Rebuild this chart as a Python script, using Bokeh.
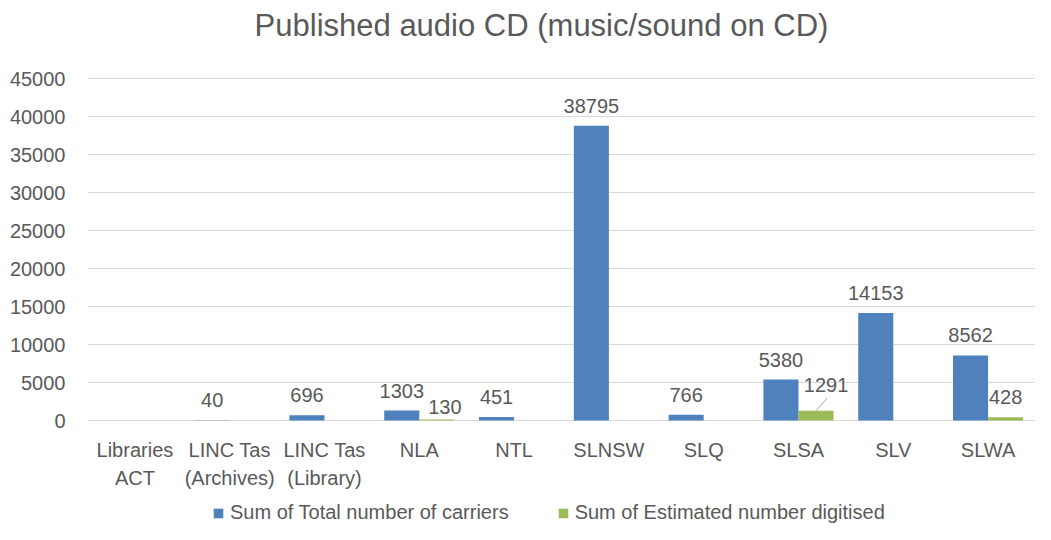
from bokeh.plotting import figure
from bokeh.models import (ColumnDataSource, Legend, LegendItem, FactorRange, Range1d,
                          FixedTicker, Label)
from bokeh.transform import dodge
from bokeh.core.properties import value
from bokeh.embed import file_html
from bokeh.resources import INLINE

NaN = float("nan")

# ---- data ----
categories = ["Libraries\nACT", "LINC Tas\n(Archives)", "LINC Tas\n(Library)", "NLA", "NTL",
              "SLNSW", "SLQ", "SLSA", "SLV", "SLWA"]
total_carriers = [NaN, 40, 696, 1303, 451, 38795, 766, 5380, 14153, 8562]
est_digitised = [NaN, NaN, NaN, 130, NaN, NaN, NaN, 1291, NaN, 428]
series_names = ["Sum of Total number of carriers", "Sum of Estimated number digitised"]
title_text = "Published audio CD (music/sound on CD)"
y_ticks = [0, 5000, 10000, 15000, 20000, 25000, 30000, 35000, 40000, 45000]

FONT = "Liberation Sans"
TXT = "#595959"
BLUE = "#4F81BD"
GREEN = "#9BBB59"
GRID = "#D9D9D9"

# layout: the frame covers the whole height; the value axis occupies 342px of it
W, H = 1035, 524
LEFT_PX = 87
TOP_PX, BOTTOM_PX = 78, 104
AXIS_PX = H - TOP_PX - BOTTOM_PX
ymax = y_ticks[-1]
upp = ymax / AXIS_PX  # units per pixel
y_range = Range1d(-BOTTOM_PX * upp, ymax + TOP_PX * upp)

BW = 0.37        # bar width (category units)
DX = BW / 2      # dodge of each series

p = figure(x_range=FactorRange(*categories, range_padding=0), y_range=y_range,
           width=W, height=H, output_backend="svg", toolbar_location=None,
           min_border_left=LEFT_PX, min_border_right=0, min_border_top=0, min_border_bottom=0)
p.outline_line_color = None
p.background_fill_color = "white"
p.border_fill_color = "white"

bar_src = ColumnDataSource(dict(cat=categories, total=total_carriers, est=est_digitised))
r1 = p.vbar(x=dodge("cat", -DX, range=p.x_range), top="total", width=BW, source=bar_src,
            fill_color=BLUE, line_color=None)
r2 = p.vbar(x=dodge("cat", DX, range=p.x_range), top="est", width=BW, source=bar_src,
            fill_color=GREEN, line_color=None)

# data labels
def label_src(vals, extra=None):
    cats, ys, txt, xo, yo = [], [], [], [], []
    for c, v in zip(categories, vals):
        if v == v:
            cats.append(c); ys.append(v); txt.append(str(int(v)))
            ex = (extra or {}).get(c, (0, 0))
            xo.append(ex[0]); yo.append(-13 + ex[1])
    return ColumnDataSource(dict(cat=cats, y=ys, text=txt, xo=xo, yo=yo))

blue_lbl = label_src(total_carriers)
green_lbl = label_src(est_digitised, {"NLA": (8, 7), "SLSA": (10, -6)})

for src, dx in ((blue_lbl, -DX), (green_lbl, DX)):
    p.text(x=dodge("cat", dx, range=p.x_range), y="y", text="text", source=src,
           x_offset="xo", y_offset="yo", text_align="center", text_baseline="bottom",
           text_font=value(FONT), text_font_size="20px", text_color=TXT)

# leader line for the moved SLSA label
slsa_v = est_digitised[categories.index("SLSA")]
lead = ColumnDataSource(dict(x0=["SLSA"], x1=["SLSA"], y0=[slsa_v], y1=[slsa_v + 13 * upp]))
p.segment(x0=dodge("x0", DX, range=p.x_range), x1=dodge("x1", DX + 0.12, range=p.x_range),
          y0="y0", y1="y1", source=lead, line_color="#A6A6A6", line_width=1)

# category labels (drawn below the zero line)
cat_src = ColumnDataSource(dict(cat=categories, y=[0] * len(categories)))
p.text(x="cat", y="y", text="cat", source=cat_src, y_offset=18, text_align="center",
       text_baseline="top", text_line_height=1.3,
       text_font=value(FONT), text_font_size="20px", text_color=TXT)

# axes
p.xaxis.visible = False
p.yaxis.ticker = FixedTicker(ticks=y_ticks)
p.yaxis.axis_line_color = None
p.yaxis.major_tick_line_color = None
p.yaxis.minor_tick_line_color = None
p.yaxis.major_label_text_font = FONT
p.yaxis.major_label_text_font_size = "20px"
p.yaxis.major_label_text_color = TXT
p.yaxis.major_label_standoff = 16

p.xgrid.grid_line_color = None
p.ygrid.grid_line_color = GRID
p.ygrid.grid_line_width = 1

# title
title = Label(x=454, y=ymax, x_units="screen", y_units="data", y_offset=53,
              text=title_text, text_align="center", text_baseline="middle",
              text_font=FONT, text_font_size="31px", text_color=TXT)
p.add_layout(title)

legend = Legend(items=[LegendItem(label=series_names[0], renderers=[r1]),
                       LegendItem(label=series_names[1], renderers=[r2])],
                orientation="horizontal", location=(125, 0),
                label_text_font=FONT, label_text_font_size="20px", label_text_color=TXT,
                glyph_width=12, glyph_height=12, spacing=48, padding=0, margin=0,
                border_line_color=None, background_fill_alpha=0, label_standoff=6)
p.add_layout(legend, "center")

open("out.html", "w").write(file_html(p, INLINE))
